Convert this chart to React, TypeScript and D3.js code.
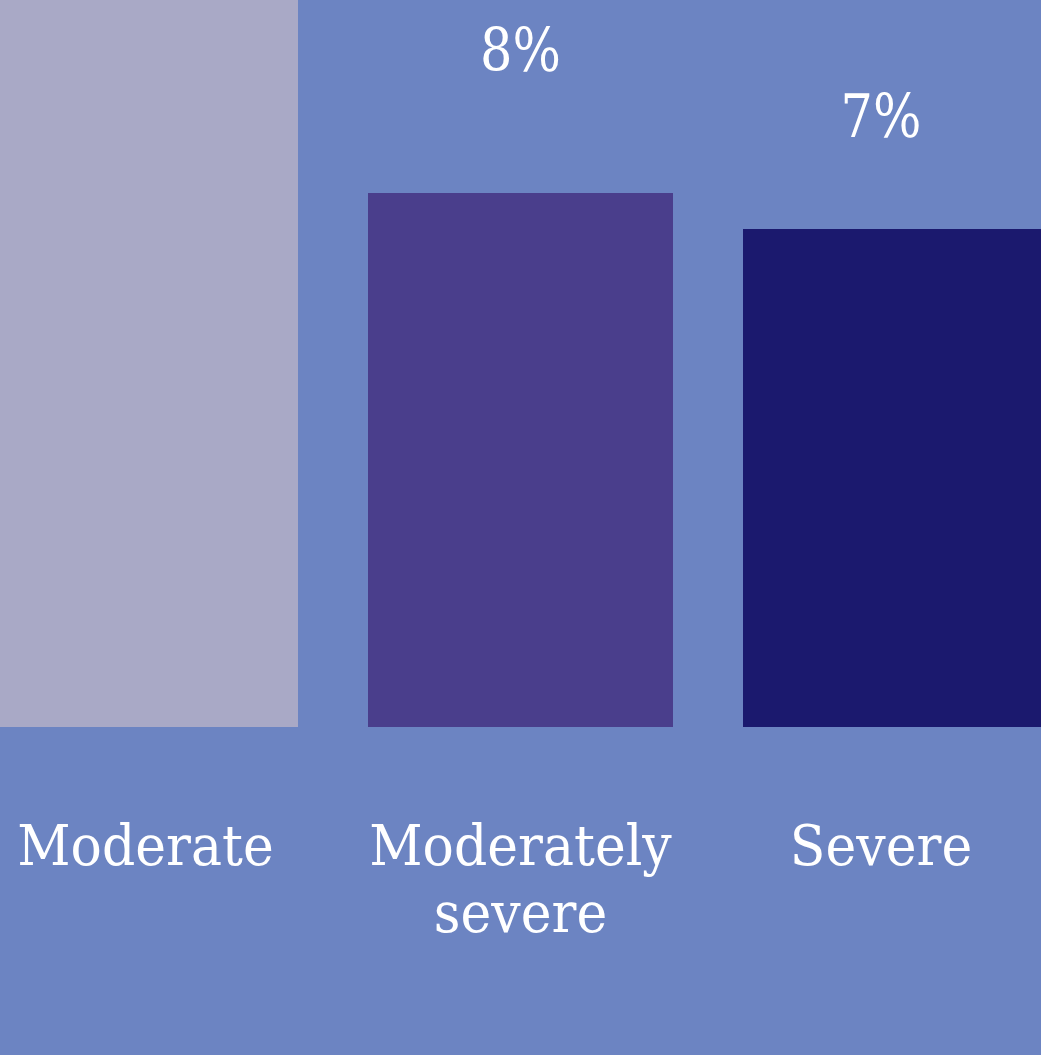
import React from "react";
import * as d3 from "d3";

// Share of respondents by depression severity (percent)
const categories: string[] = ["Moderate", "Moderately severe", "Severe"];
const categoryLines: string[][] = [["Moderate"], ["Moderately", "severe"], ["Severe"]];
const values: number[] = [16, 8, 7];
const barColors: string[] = ["#A9A9C6", "#4A3E8C", "#1B196E"];

const WIDTH = 1041;
const HEIGHT = 1055;
const BG = "#6C84C2";
const FONT = "'DejaVu Serif', 'Liberation Serif', serif";

export default function App() {
  const plotBottom = 727;

  const x = d3
    .scaleBand<string>()
    .domain(categories)
    .range([-7, 1048])
    .paddingInner(70 / 375)
    .paddingOuter(0);

  // truncated value axis: the plot floor sits at -6.83 pts
  const y = d3.scaleLinear().domain([-6.83, 13.36]).range([plotBottom, 0]);
  // value labels float above the bars on their own spacing
  const labelY = d3.scaleLinear().domain([7, 8]).range([137, 71]);

  const fmt = (v: number) => `${d3.format(".0f")(v)}%`;
  // keep text blocks clear of the frame edges
  const labelX = (cx: number) => Math.max(139, Math.min(WIDTH - 160, cx));

  return (
    <svg
      width={WIDTH}
      height={HEIGHT}
      style={{ position: "absolute", left: 0, top: 0, display: "block" }}
    >
      <rect x={0} y={0} width={WIDTH} height={HEIGHT} fill={BG} />
      {categories.map((c, i) => {
        const bx = x(c)!;
        const bw = x.bandwidth();
        const tx = labelX(bx + bw / 2);
        const ly = labelY(values[i]);
        return (
          <g key={c}>
            <rect
              x={bx}
              y={y(values[i])}
              width={bw}
              height={plotBottom - y(values[i])}
              fill={barColors[i]}
            />
            {ly > 40 && (
              <g transform={`translate(${tx},${ly}) scale(0.85,1)`}>
                <text
                  textAnchor="middle"
                  fill="#fff"
                  fontFamily={FONT}
                  fontSize={60}
                >
                  {fmt(values[i])}
                </text>
              </g>
            )}
            <g transform={`translate(${tx},865) scale(0.93,1)`}>
              <text textAnchor="middle" fill="#fff" fontFamily={FONT} fontSize={56}>
                {categoryLines[i].map((ln, j) => (
                  <tspan key={j} x={0} dy={j === 0 ? 0 : 67}>
                    {ln}
                  </tspan>
                ))}
              </text>
            </g>
          </g>
        );
      })}
    </svg>
  );
}
